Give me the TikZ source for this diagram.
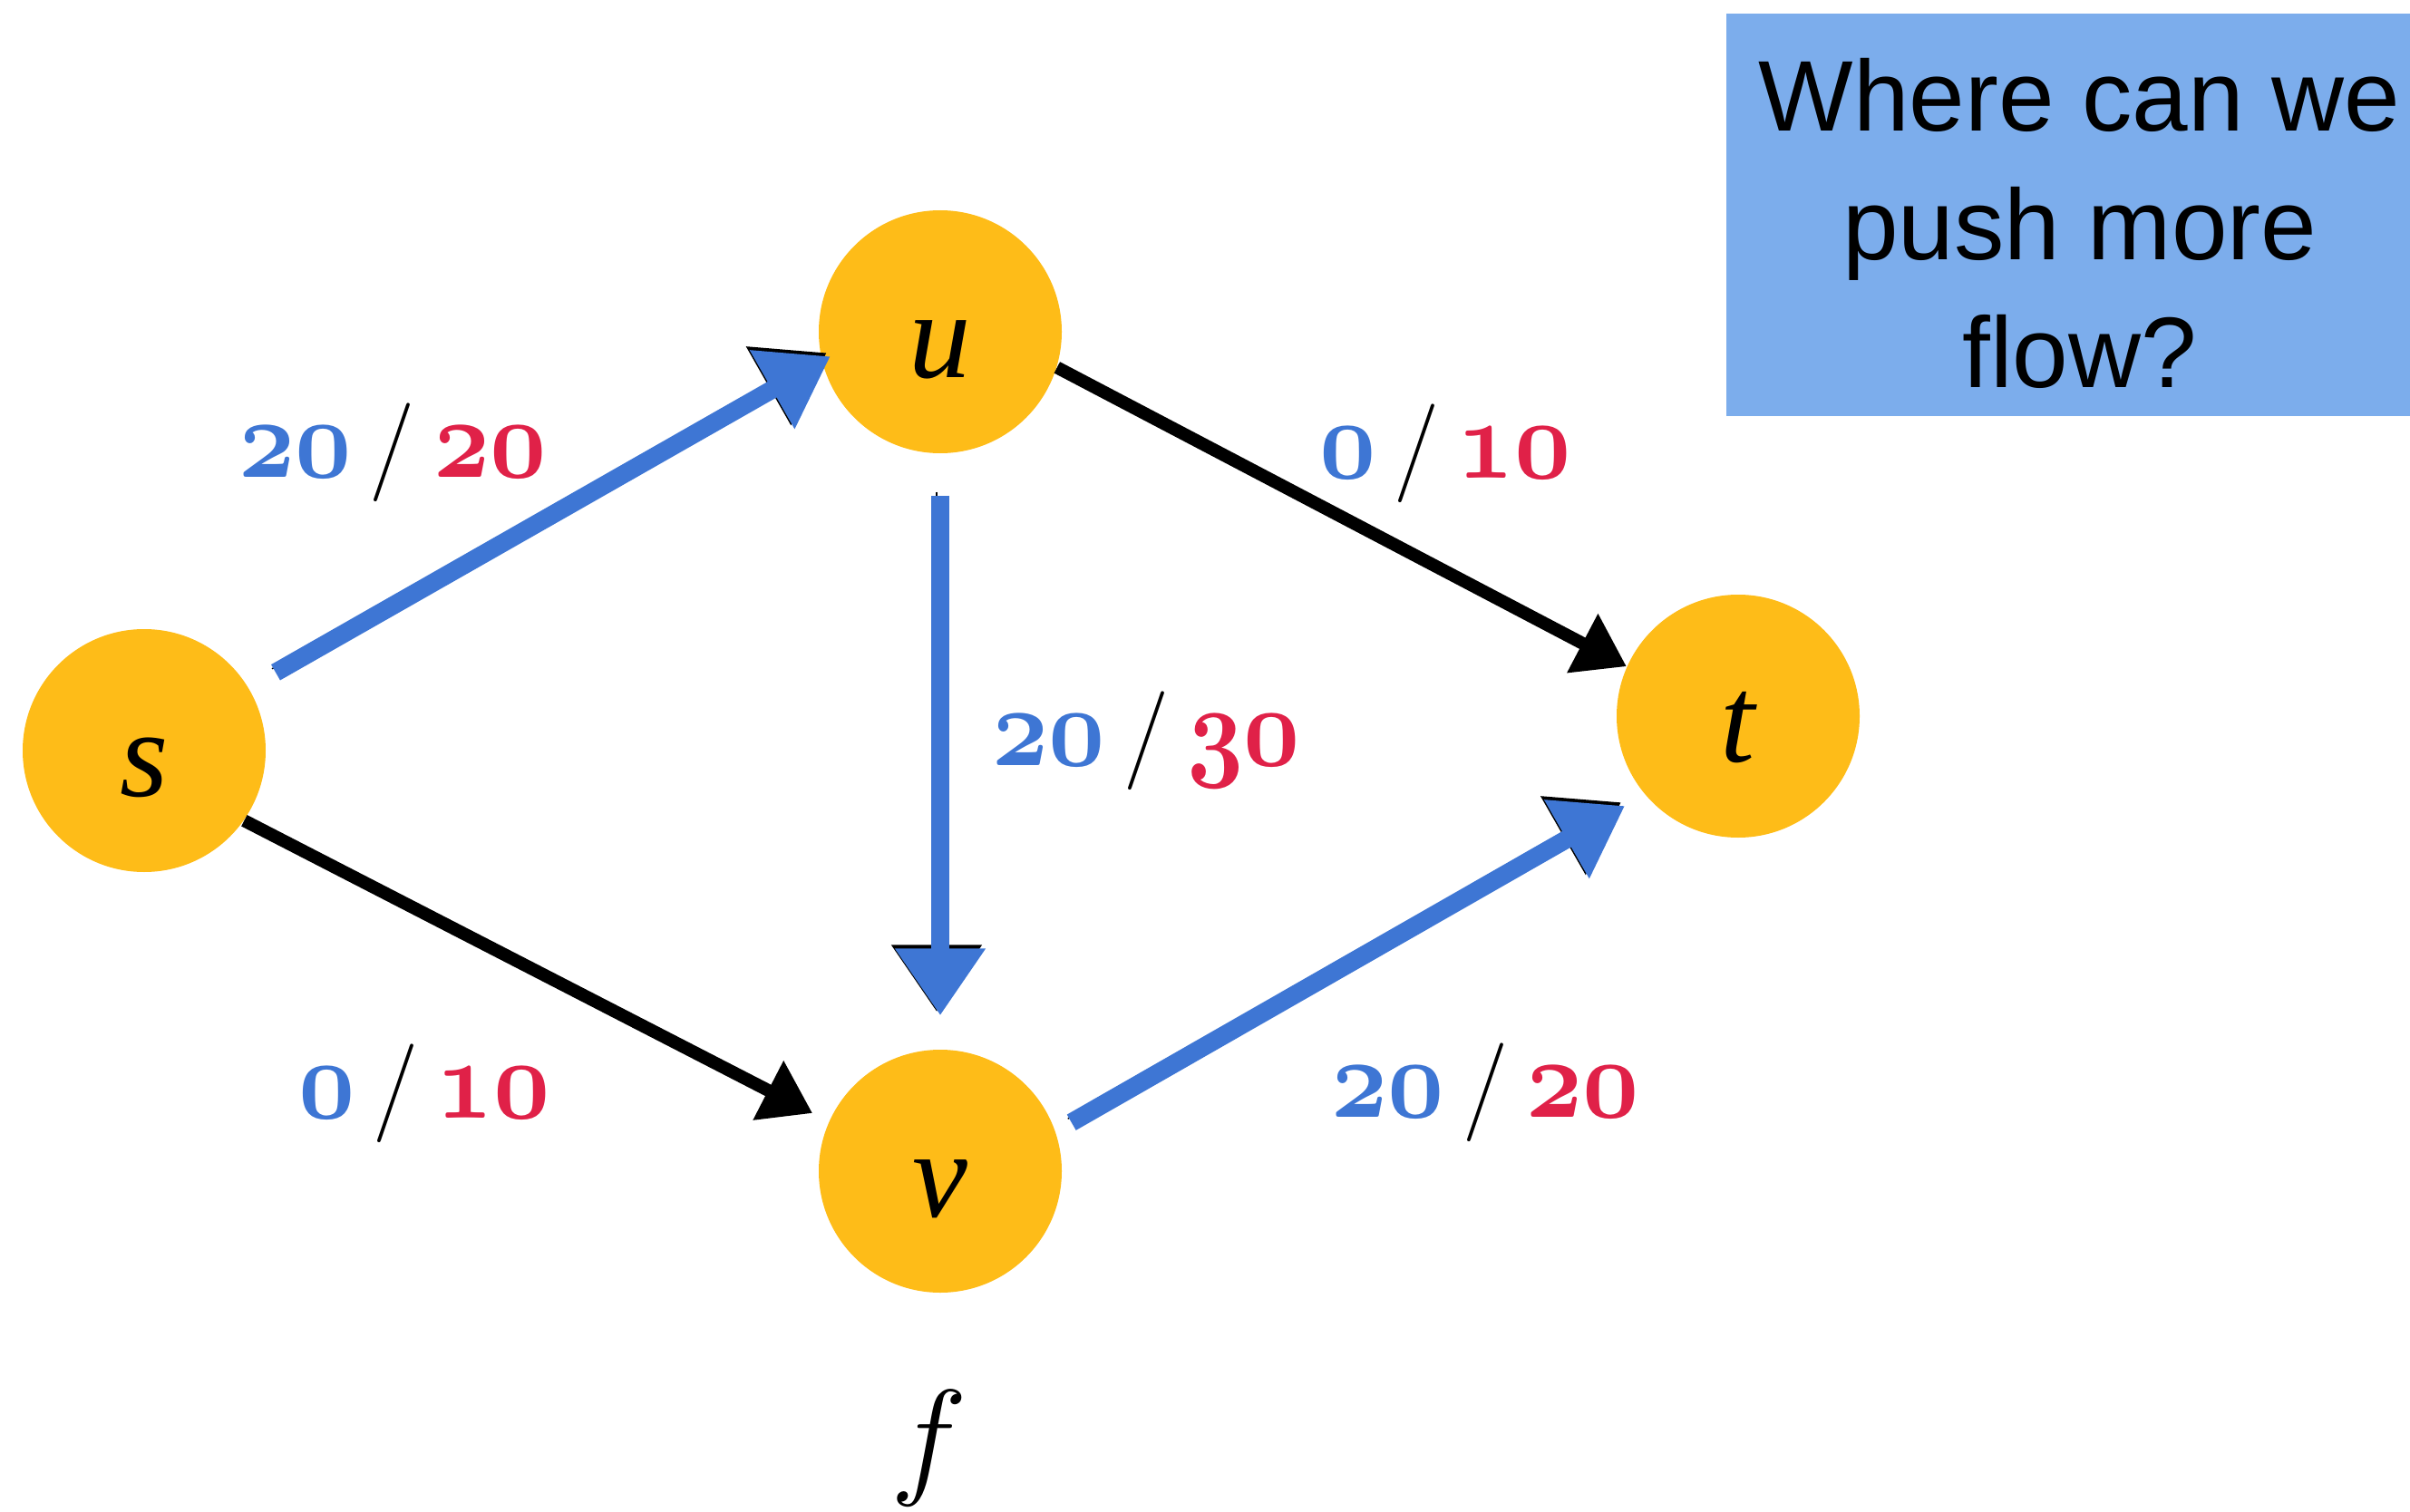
\documentclass[tikz,border=0pt]{standalone}
\usepackage{fontspec}
\usepackage{graphicx}
\usetikzlibrary{arrows.meta,positioning}
\newfontfamily\askfont{Liberation Sans}
\newfontfamily\letterfont{Liberation Serif}
% cifras de estilo antiguo (cmm negrita, escaladas)
\newcommand{\ofig}[1]{\scalebox{1.24}[1.43]{\fontsize{24.88}{24.88}\usefont{OML}{cmm}{b}{it}#1}}
\newcommand{\flowlab}[2]{\textcolor{flowblue}{\ofig{#1}}\kern0.2cm{\fontsize{31}{31}\selectfont/}\kern0.2cm\textcolor{capred}{\ofig{#2}}}

\begin{document}
\begin{tikzpicture}[
        vertex/.style={circle, fill=vertexyellow, minimum size=2.68cm, inner sep=0pt,
            font=\letterfont\itshape\fontsize{39}{39}\selectfont,
            text height=1.0cm, text depth=0pt},
        capedge/.style={-{Triangle[length=0.55cm,width=0.7cm]}, line width=0.14cm, black},
        flowedge/.style={-{Triangle[length=0.74cm,width=0.95cm]}, line width=0.2cm, flowblue,
            preaction={draw=black, transform canvas={xshift=-0.4mm,yshift=0.4mm}}},
        edgelabel/.style={anchor=base},
        askbox/.style={fill=askblue, minimum width=7.8cm, minimum height=4.44cm,
            align=center, inner sep=0pt,
            font=\askfont\fontsize{31.5}{40.3}\selectfont}
    ]

        % --- COLORES ---
        \definecolor{vertexyellow}{RGB}{254, 188, 24}
        \definecolor{flowblue}{RGB}{62, 118, 212}
        \definecolor{capred}{RGB}{224, 33, 72}
        \definecolor{askblue}{RGB}{124, 173, 236}

        \useasboundingbox (0,0) rectangle (26.58,16.67);

        % --- VERTICES ---
        \node[vertex] (s) at (1.59,8.39) {s};
        \node[vertex] (u) at (10.37,13.01) {u};
        \node[vertex] (v) at (10.37,3.75) {v};
        \node[vertex] (t) at (19.17,8.77) {t};

        % --- ARISTAS ---
        \draw[flowedge, shorten <=0.34cm, shorten >=-0.11cm] (s.31) -- (u.194);
        \draw[capedge] (u.-17) -- (t.156);
        \draw[flowedge, shorten <=0.46cm, shorten >=0.37cm] (u) -- (v);
        \draw[capedge, shorten >=0.2cm] (s.-35) -- (v.156);
        \draw[flowedge, shorten <=0.2cm, shorten >=0.25cm] (v.19.5) -- (t.220);

        % --- FLUJO / CAPACIDAD ---
        \node[edgelabel] (lsu) at (4.33,11.41) {\flowlab{20}{20}};
        \node[edgelabel] (lut) at (15.94,11.40) {\flowlab{0}{10}};
        \node[edgelabel] (luv) at (12.64,8.23) {\flowlab{20}{30}};
        \node[edgelabel] (lsv) at (4.68,4.34) {\flowlab{0}{10}};
        \node[edgelabel] (lvt) at (16.38,4.35) {\flowlab{20}{20}};

        % --- NOMBRE DEL FLUJO ---
        \node[anchor=base] (f) at (10.17,0.34)
            {\scalebox{1.64}{\fontsize{24.88}{24.88}\usefont{OML}{cmm}{m}{it}f}};

        % --- PREGUNTA ---
        \node[askbox, anchor=north west] (ask) at (19.03,16.53)
            {\rule{0pt}{1.0cm}Where can we\\push more\\flow?};

    \end{tikzpicture}
\end{document}
